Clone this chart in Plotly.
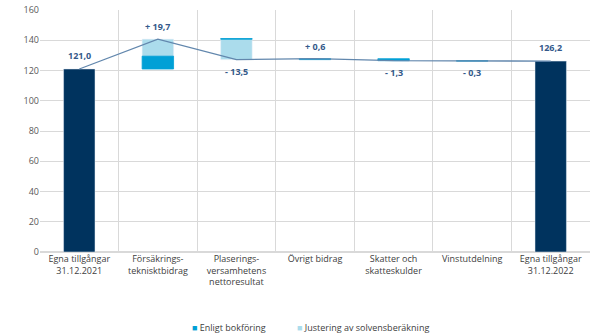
import plotly.graph_objects as go

categories = ["Egna tillgångar<br>31.12.2021", "Försäkrings-<br>teknisktbidrag", "Plaserings-<br>versamhetens<br>nettoresultat",
              "Övrigt bidrag", "Skatter och<br>skatteskulder", "Vinstutdelning", "Egna tillgångar<br>31.12.2022"]
start_value = 121.0
end_value = 126.2
booking = [8.5, 0.4, 0.6, -1.3, -0.3]        # Enligt bokföring
adjustment = [11.2, -13.9, 0.0, 0.0, 0.0]     # Justering av solvensberäkning
change_labels = ["+ 19,7", "- 13,5", "+ 0,6", "- 1,3", "- 0,3"]
total_labels = ["121,0", "126,2"]
legend_names = ["Enligt bokföring", "Justering av solvensberäkning"]

NAVY = "#00335e"
CYAN = "#00a0d6"
LIGHT = "#abdcec"
LBL = "#34598a"

mid = categories[1:-1]
running = [start_value]
b_base, b_h, a_base, a_h = [], [], [], []
for b, a in zip(booking, adjustment):
    cur = running[-1]
    b_base.append(cur); b_h.append(b)
    a_base.append(cur + b); a_h.append(a)
    running.append(cur + b + a)

fig = go.Figure()
fig.add_trace(go.Bar(x=[categories[0], categories[-1]], y=[start_value, end_value], marker_color=NAVY,
                     width=0.4, showlegend=False))
fig.add_trace(go.Bar(x=mid, y=a_h, base=a_base, marker_color=LIGHT, width=0.4, name=legend_names[1], showlegend=False))
fig.add_trace(go.Bar(x=mid, y=b_h, base=b_base, marker=dict(color=CYAN, line=dict(color=CYAN, width=0.8)),
                     width=0.4, name=legend_names[0], showlegend=False))

line_y = running + [end_value]
fig.add_trace(go.Scatter(x=categories, y=line_y, mode="lines", line=dict(color="#6287ad", width=1.3),
                         showlegend=False, hoverinfo="skip"))

ann = []
ann.append(dict(x=categories[0], y=start_value, text=total_labels[0], yanchor="bottom", yshift=5))
ann.append(dict(x=categories[-1], y=end_value, text=total_labels[1], yanchor="bottom", yshift=5))
for i, c in enumerate(mid):
    lo = min(running[i], b_base[i] + b_h[i], running[i + 1])
    hi = max(running[i], b_base[i] + b_h[i], running[i + 1])
    total = booking[i] + adjustment[i]
    if total >= 0:
        ann.append(dict(x=c, y=hi, text=change_labels[i], yanchor="bottom", yshift=4))
    else:
        ann.append(dict(x=c, y=lo, text=change_labels[i], yanchor="top", yshift=-3))
for a in ann:
    a.update(showarrow=False, font=dict(size=9, color=LBL, family="Open Sans"))
    a["text"] = "<b>" + a["text"] + "</b>"

# custom compact legend
for xpos, name, col in [(0.272, legend_names[0], CYAN), (0.463, legend_names[1], LIGHT)]:
    ann.append(dict(xref="paper", yref="paper", x=xpos, y=-0.314, xanchor="left", yanchor="middle",
                    showarrow=False,
                    text=f"<span style='color:{col};font-size:9px'>■</span> {name}",
                    font=dict(size=9, color="#404040", family="Open Sans")))

fig.update_layout(
    width=590, height=336, margin=dict(l=40, r=0, t=10, b=84),
    paper_bgcolor="white", plot_bgcolor="white",
    barmode="overlay", annotations=ann, showlegend=False,
    font=dict(family="Open Sans", size=9, color="#404040"),
    xaxis=dict(type="category", categoryorder="array", categoryarray=categories,
               tickson="boundaries", showgrid=True, gridcolor="#d9d9d9", gridwidth=1,
               ticks="", showline=False, automargin=False, tickfont=dict(size=9, color="#404040")),
    yaxis=dict(range=[0, 160], dtick=20, showgrid=True, gridcolor="#d9d9d9", gridwidth=1,
               zeroline=True, zerolinecolor="#d9d9d9", tickfont=dict(size=9, color="#595959"),
               ticks="", automargin=False),
)
fig.write_html("out.html", config={"displayModeBar": False},
               post_script="document.body.style.margin='0';")
